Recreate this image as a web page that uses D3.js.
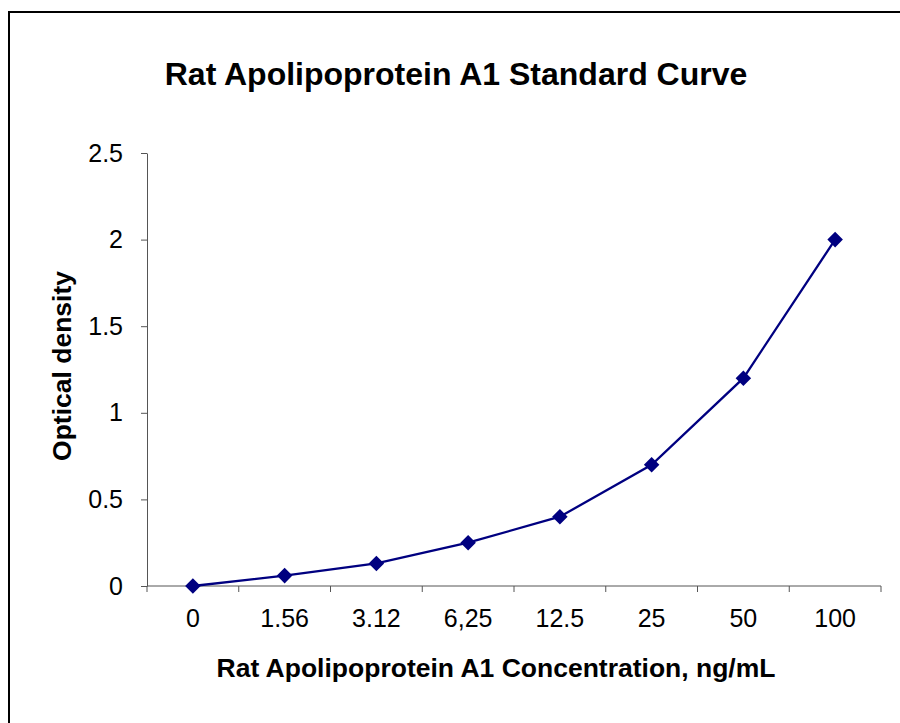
<!DOCTYPE html>
<html>
<head>
<meta charset="utf-8">
<script src="https://cdn.jsdelivr.net/npm/d3@7"></script>
<style>
  body { margin: 0; background: #fff; }
  svg { display: block; font-family: "Liberation Sans", Arial, sans-serif; }
</style>
</head>
<body>
<div id="chart"></div>
<script>
// 数据
const concentrations = ["0", "1.56", "3.12", "6,25", "12.5", "25", "50", "100"];
const densities = [0, 0.06, 0.13, 0.25, 0.4, 0.7, 1.2, 2.0];
const yTicks = [0, 0.5, 1, 1.5, 2, 2.5];

const width = 900, height = 723;
const margin = {top: 153, right: 19, bottom: 137, left: 147};
const plotW = width - margin.left - margin.right;
const plotH = height - margin.top - margin.bottom;

const svg = d3.select("#chart").append("svg")
    .attr("width", width)
    .attr("height", height);

// 外框
svg.append("path")
    .attr("d", "M9,723 V12 H900")
    .attr("fill", "none")
    .attr("stroke", "#000")
    .attr("stroke-width", 2);

const g = svg.append("g")
    .attr("transform", `translate(${margin.left},${margin.top})`);

// 比例尺
const x = d3.scaleBand()
    .domain(concentrations)
    .range([0, plotW]);

const y = d3.scaleLinear()
    .domain([0, 2.5])
    .range([plotH, 0]);

// Y 轴
const yAxis = g.append("g")
    .call(d3.axisLeft(y).tickValues(yTicks).tickFormat(d => d).tickSize(6).tickSizeOuter(0));
yAxis.selectAll("text")
    .attr("x", -24)
    .style("font-size", "25px")
    .attr("fill", "#000");
yAxis.selectAll("line, path").attr("stroke", "#555");

// X 轴（刻度在类别之间）
const xAxisG = g.append("g").attr("transform", `translate(0,${plotH})`);
xAxisG.append("line")
    .attr("x1", 0).attr("x2", plotW)
    .attr("stroke", "#555");
const boundaries = concentrations.map(c => x(c)).concat([x.range()[1]]);
xAxisG.selectAll(".tick-line")
    .data(boundaries)
    .join("line")
    .attr("x1", d => d).attr("x2", d => d)
    .attr("y1", 0).attr("y2", 6)
    .attr("stroke", "#555");
xAxisG.selectAll(".tick-label")
    .data(concentrations)
    .join("text")
    .attr("x", d => x(d) + x.bandwidth() / 2)
    .attr("y", 41)
    .attr("text-anchor", "middle")
    .style("font-size", "25px")
    .text(d => d);

// 折线
const line = d3.line()
    .x((d, i) => x(concentrations[i]) + x.bandwidth() / 2)
    .y(d => y(d));

g.append("path")
    .datum(densities)
    .attr("d", line)
    .attr("fill", "none")
    .attr("stroke", "#000080")
    .attr("stroke-width", 2.3);

// 菱形标记
g.selectAll(".marker")
    .data(densities)
    .join("path")
    .attr("transform", (d, i) => `translate(${x(concentrations[i]) + x.bandwidth() / 2},${y(d)}) rotate(45)`)
    .attr("d", "M-5.5,-5.5H5.5V5.5H-5.5Z")
    .attr("fill", "#000080");

// 标题
svg.append("text")
    .attr("x", 456)
    .attr("y", 85)
    .attr("text-anchor", "middle")
    .style("font-size", "32px")
    .style("font-weight", "bold")
    .text("Rat Apolipoprotein A1 Standard Curve");

svg.append("text")
    .attr("x", 496)
    .attr("y", 677)
    .attr("text-anchor", "middle")
    .style("font-size", "26.5px")
    .style("font-weight", "bold")
    .text("Rat Apolipoprotein A1 Concentration, ng/mL");

svg.append("text")
    .attr("transform", "translate(71,366) rotate(-90)")
    .attr("text-anchor", "middle")
    .style("font-size", "26.5px")
    .style("font-weight", "bold")
    .text("Optical density");
</script>
</body>
</html>
